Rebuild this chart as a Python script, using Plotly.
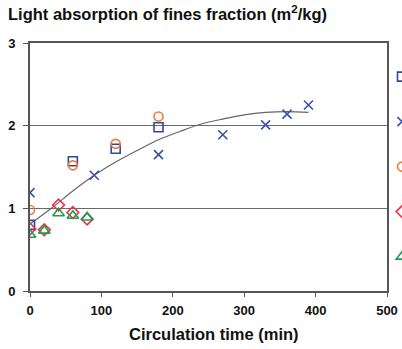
import plotly.graph_objects as go

# ---- data ----
sq_x = [0, 60, 120, 180]
sq_y = [0.80, 1.57, 1.72, 1.98]

xm_x = [0, 90, 180, 270, 330, 360, 390]
xm_y = [1.19, 1.40, 1.65, 1.89, 2.01, 2.14, 2.25]

ci_x = [0, 60, 120, 180]
ci_y = [0.98, 1.52, 1.78, 2.11]

di_x = [0, 20, 40, 60, 80]
di_y = [0.75, 0.74, 1.04, 0.95, 0.87]

tr_x = [0, 20, 40, 60, 80]
tr_y = [0.68, 0.73, 0.94, 0.91, 0.89]

trend_x = [0, 30, 60, 90, 120, 150, 180, 210, 240, 270, 300, 330, 360, 390]
trend_y = [0.81, 1.00, 1.21, 1.40, 1.56, 1.70, 1.83, 1.93, 2.02, 2.08, 2.13, 2.16, 2.17, 2.16]

names = ["Series 1", "Series 2", "Series 3", "Series 4", "Series 5"]

FONT = "Liberation Sans, Arial, sans-serif"

fig = go.Figure()

fig.add_trace(go.Scatter(x=trend_x, y=trend_y, mode="lines", line=dict(color="#666666", width=1.2, shape="spline"),
                         showlegend=False, hoverinfo="skip"))

series = [
    (sq_x, sq_y, "square-open", "#2E4A9E", 9, names[0]),
    (xm_x, xm_y, "x-thin-open", "#3550B0", 9, names[1]),
    (ci_x, ci_y, "circle-open", "#F07A3A", 9, names[2]),
    (di_x, di_y, "diamond-open", "#E8344A", 9, names[3]),
    (tr_x, tr_y, "triangle-up-open", "#1E9E48", 10, names[4]),
]
for i, (xs, ys, sym, col, sz, nm) in enumerate(series):
    fig.add_trace(go.Scatter(x=xs, y=ys, mode="markers", name=nm, legendgroup=f"g{i}",
                             marker=dict(symbol=sym, size=sz, color=col, line=dict(color=col, width=1.6))))

fig.add_annotation(text="<b>Circulation time (min)</b>", xref="paper", yref="paper", x=0.515, y=-0.173,
                   xanchor="center", yanchor="middle", showarrow=False,
                   font=dict(size=16.5, family=FONT, color="#111111"))

fig.update_layout(
    width=402, height=349,
    margin=dict(l=30, r=15, t=43, b=58, autoexpand=False),
    paper_bgcolor="white", plot_bgcolor="white",
    font=dict(family=FONT, color="#111111"),
    title=dict(text="<b>Light absorption of fines fraction (m<sup>2</sup>/kg)</b>", x=0, xref="container", xanchor="left",
               y=1, yref="container", yanchor="top", pad=dict(t=8, l=8), font=dict(size=16.5, family=FONT, color="#111111")),
    legend=dict(x=0.986, xanchor="left", y=0.923, yanchor="top", traceorder="grouped", tracegroupgap=26,
                bgcolor="rgba(0,0,0,0)", font=dict(size=12, family=FONT)),
    xaxis=dict(range=[0, 500], tickvals=[0, 100, 200, 300, 400, 500], ticks="outside", ticklen=4, tickcolor="#555555",
               showline=True, linecolor="#555555", linewidth=2, mirror=True, showgrid=False, zeroline=False,
               tickfont=dict(size=13, family=FONT, color="#111111", weight="bold"), ticklabelstandoff=2),
    yaxis=dict(range=[0, 3], tickvals=[0, 1, 2, 3], ticks="outside", ticklen=5, tickcolor="#555555",
               showline=True, linecolor="#555555", linewidth=2, mirror=True, showgrid=True, gridcolor="#6a6a6a", gridwidth=1,
               zeroline=False, tickfont=dict(size=13, family=FONT, color="#111111", weight="bold"), ticklabelstandoff=5),
)

fig.write_html("out.html", config={"displayModeBar": False},
               post_script="document.body.style.margin='0';document.body.style.overflow='hidden';")
